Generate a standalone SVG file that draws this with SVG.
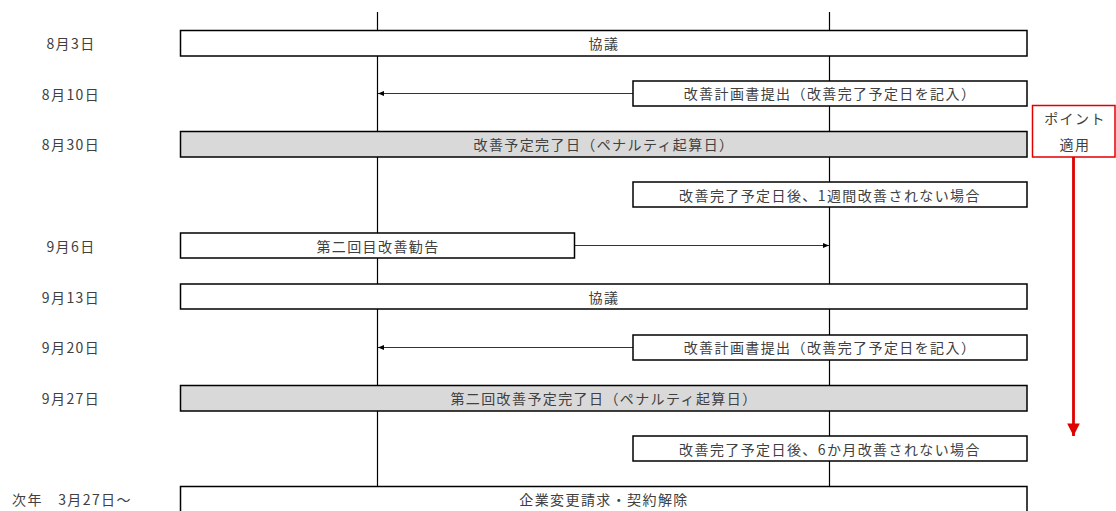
<svg xmlns="http://www.w3.org/2000/svg" width="1116" height="511" viewBox="0 0 1116 511">
<style>
text{font-family:"Noto Sans CJK JP","Noto Sans",sans-serif;font-size:14px;fill:#404040;letter-spacing:1.4px}
.box{fill:#fff;stroke:#000;stroke-width:1.5}
.gray{fill:#d9d9d9;stroke:#000;stroke-width:1.5}
.lbl{text-anchor:middle;dominant-baseline:central}
.ln{stroke:#000;stroke-width:1.2;fill:none}
.ar{stroke:#000;stroke-width:0.8;fill:none}
</style>
<defs>
<marker id="ah" viewBox="0 0 10 10" refX="10" refY="5" markerWidth="6" markerHeight="6" markerUnits="userSpaceOnUse" orient="auto"><path d="M0,1 L10,5 L0,9 Z" fill="#000"/></marker>
<marker id="rh" viewBox="0 0 10 10" refX="10" refY="5" markerWidth="4.5" markerHeight="4.5" orient="auto"><path d="M0,0 L10,5 L0,10 Z" fill="#e00000"/></marker>
</defs>
<g id="dates">
<text class="lbl" x="71" y="42.5">8月3日</text>
<text class="lbl" x="71" y="93.5">8月10日</text>
<text class="lbl" x="71" y="143.5">8月30日</text>
<text class="lbl" x="71" y="245.5">9月6日</text>
<text class="lbl" x="71" y="296.5">9月13日</text>
<text class="lbl" x="71" y="346.5">9月20日</text>
<text class="lbl" x="71" y="397.5">9月27日</text>
<text x="12" y="498.5" dominant-baseline="central">次年　3月27日～</text>
</g>
<g id="connectors">
<line class="ln" x1="377.5" y1="12" x2="377.5" y2="487"/>
<line class="ln" x1="829.5" y1="12" x2="829.5" y2="487"/>
<line class="ar" x1="633" y1="93.5" x2="378" y2="93.5" marker-end="url(#ah)"/>
<line class="ar" x1="574" y1="245.5" x2="829" y2="245.5" marker-end="url(#ah)"/>
<line class="ar" x1="633" y1="347.5" x2="378" y2="347.5" marker-end="url(#ah)"/>
<line x1="1073.5" y1="157" x2="1073.5" y2="436" stroke="#e00000" stroke-width="2.8" marker-end="url(#rh)"/>
</g>
<g id="n1"><rect class="box" x="180.5" y="30.5" width="846.5" height="25.5"/><text class="lbl" x="604" y="42.5">協議</text></g>
<g id="n2"><rect class="box" x="633" y="81" width="394" height="25"/><text class="lbl" x="830" y="93">改善計画書提出（改善完了予定日を記入）</text></g>
<g id="n3"><rect class="gray" x="180.5" y="131.5" width="846.5" height="25.5"/><text class="lbl" x="604" y="143.5">改善予定完了日（ペナルティ起算日）</text></g>
<g id="n4"><rect class="box" x="633" y="182" width="394" height="25"/><text class="lbl" x="830" y="194.5">改善完了予定日後、1週間改善されない場合</text></g>
<g id="n5"><rect class="box" x="180.5" y="233" width="394" height="25"/><text class="lbl" x="378" y="245.5">第二回目改善勧告</text></g>
<g id="n6"><rect class="box" x="180.5" y="284" width="846.5" height="25"/><text class="lbl" x="604" y="296.5">協議</text></g>
<g id="n7"><rect class="box" x="633" y="335" width="394" height="25"/><text class="lbl" x="830" y="347">改善計画書提出（改善完了予定日を記入）</text></g>
<g id="n8"><rect class="gray" x="180.5" y="385.5" width="846.5" height="25.5"/><text class="lbl" x="604" y="397.5">第二回改善予定完了日（ペナルティ起算日）</text></g>
<g id="n9"><rect class="box" x="633" y="436" width="394" height="25"/><text class="lbl" x="830" y="448.5">改善完了予定日後、6か月改善されない場合</text></g>
<g id="n10"><rect class="box" x="180.5" y="486.5" width="846.5" height="30"/><text class="lbl" x="604" y="498.5">企業変更請求・契約解除</text></g>
<g id="point"><rect x="1032.5" y="105.5" width="82.5" height="51.5" fill="#fff" stroke="#e00000" stroke-width="1.5"/><text class="lbl" x="1075" y="117.5">ポイント</text><text class="lbl" x="1075" y="143.5">適用</text></g>
</svg>
